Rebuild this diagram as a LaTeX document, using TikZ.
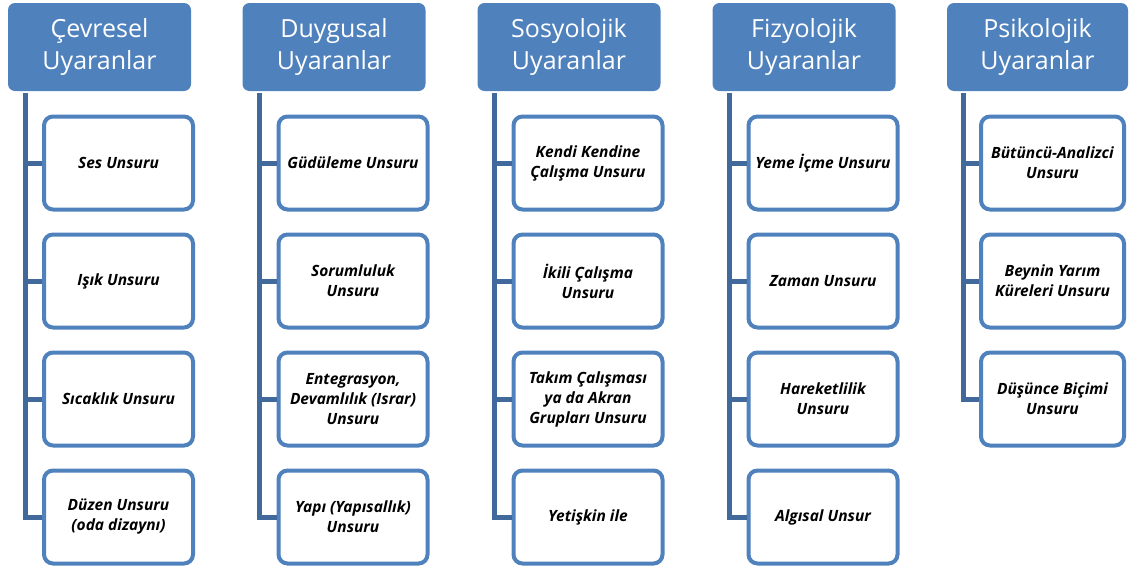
\documentclass[tikz,border=0pt]{standalone}
\usepackage{fontspec}
\setmainfont{Open Sans}
\definecolor{headblue}{HTML}{4F81BD}
\definecolor{linkblue}{HTML}{41699B}
\begin{document}
\begin{tikzpicture}[x=1pt, y=-1pt]

      \tikzset{header/.style={fill=headblue, rounded corners=7pt, minimum width=183pt, minimum height=88pt, inner sep=0pt,
               text=white, align=center, font=\fontsize{25}{32}\selectfont},
               item/.style={draw=headblue, line width=4pt, fill=white, rounded corners=9pt, minimum width=149pt, minimum height=93pt,
               inner sep=0pt, align=center, font=\fontsize{15.5}{20}\selectfont\bfseries\itshape},
               link/.style={draw=linkblue, line width=5pt}}
      \useasboundingbox (0,0) rectangle (1131,568);
%% Headers
      	\node[header] (h1) at (99.5,47) {Çevresel\\Uyaranlar};
      	\node[header] (h2) at (334,47) {Duygusal\\Uyaranlar};
      	\node[header] (h3) at (569,47) {Sosyolojik\\Uyaranlar};
      	\node[header] (h4) at (804,47) {Fizyolojik\\Uyaranlar};
      	\node[header, minimum width=181pt] (h5) at (1037.5,47) {Psikolojik\\Uyaranlar};
%% Spine tops
      	\coordinate (s1) at (25,93);
      	\coordinate (s2) at (259,93);
      	\coordinate (s3) at (494,93);
      	\coordinate (s4) at (729,93);
      	\coordinate (s5) at (963,93);
%% Items
      	\node[item] (c11) at (118.5,163) {Ses Unsuru};
      	\node[item] (c12) at (118.5,281) {Işık Unsuru};
      	\node[item] (c13) at (118.5,399) {Sıcaklık Unsuru};
      	\node[item] (c14) at (118.5,517) {Düzen Unsuru\\(oda dizaynı)};
      	\node[item] (c21) at (353,163) {Güdüleme Unsuru};
      	\node[item] (c22) at (353,281) {Sorumluluk\\Unsuru};
      	\node[item] (c23) at (353,399) {Entegrasyon,\\Devamlılık (Israr)\\Unsuru};
      	\node[item] (c24) at (353,517) {Yapı (Yapısallık)\\Unsuru};
      	\node[item] (c31) at (588,163) {Kendi Kendine\\Çalışma Unsuru};
      	\node[item] (c32) at (588,281) {İkili Çalışma\\Unsuru};
      	\node[item] (c33) at (588,399) {Takım Çalışması\\ya da Akran\\Grupları Unsuru};
      	\node[item] (c34) at (588,517) {Yetişkin ile};
      	\node[item] (c41) at (823,163) {Yeme İçme Unsuru};
      	\node[item] (c42) at (823,281) {Zaman Unsuru};
      	\node[item] (c43) at (823,399) {Hareketlilik\\Unsuru};
      	\node[item] (c44) at (823,517) {Algısal Unsur};
      	\node[item, minimum width=143pt] (c51) at (1052.5,163) {Bütüncü-Analizci\\Unsuru};
      	\node[item, minimum width=143pt] (c52) at (1052.5,281) {Beynin Yarım\\Küreleri Unsuru};
      	\node[item, minimum width=143pt] (c53) at (1052.5,399) {Düşünce Biçimi\\Unsuru};
%Edges
		\draw[link] (s1) |- (c11.west);
		\draw[link] (s1) |- (c12.west);
		\draw[link] (s1) |- (c13.west);
		\draw[link] (s1) |- (c14.west);
		\draw[link] (s2) |- (c21.west);
		\draw[link] (s2) |- (c22.west);
		\draw[link] (s2) |- (c23.west);
		\draw[link] (s2) |- (c24.west);
		\draw[link] (s3) |- (c31.west);
		\draw[link] (s3) |- (c32.west);
		\draw[link] (s3) |- (c33.west);
		\draw[link] (s3) |- (c34.west);
		\draw[link] (s4) |- (c41.west);
		\draw[link] (s4) |- (c42.west);
		\draw[link] (s4) |- (c43.west);
		\draw[link] (s4) |- (c44.west);
		\draw[link] (s5) |- (c51.west);
		\draw[link] (s5) |- (c52.west);
		\draw[link] (s5) |- (c53.west);

	\end{tikzpicture}
\end{document}
